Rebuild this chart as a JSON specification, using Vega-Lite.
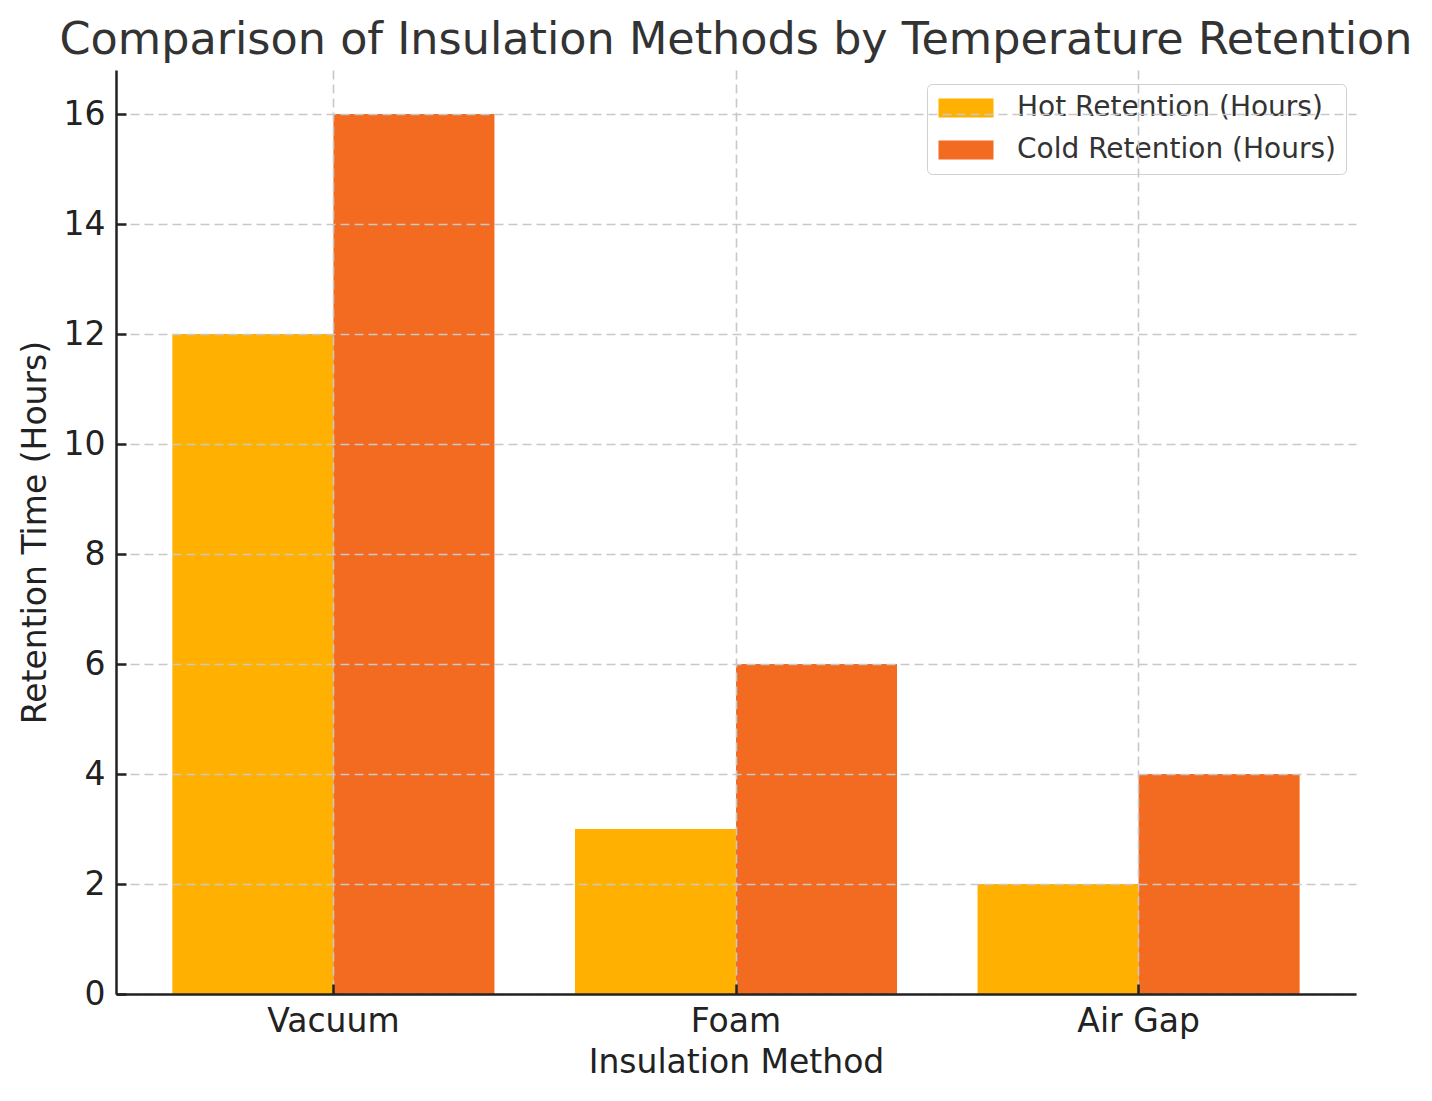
{
  "$schema": "https://vega.github.io/schema/vega-lite/v6.json",
  "width": 1240,
  "height": 924,
  "autosize": {"type": "none"},
  "padding": {"left": 116, "top": 70, "right": 76, "bottom": 107},
  "background": "white",
  "title": {
    "text": "Comparison of Insulation Methods by Temperature Retention",
    "font": "DejaVu Sans",
    "fontSize": 44.5,
    "fontWeight": "normal",
    "color": "#333333",
    "anchor": "middle",
    "baseline": "alphabetic",
    "offset": 15,
    "dy": 43
  },
  "data": {
    "values": [
      {"method": "Vacuum", "series": "Hot Retention (Hours)", "hours": 12},
      {"method": "Vacuum", "series": "Cold Retention (Hours)", "hours": 16},
      {"method": "Foam", "series": "Hot Retention (Hours)", "hours": 3},
      {"method": "Foam", "series": "Cold Retention (Hours)", "hours": 6},
      {"method": "Air Gap", "series": "Hot Retention (Hours)", "hours": 2},
      {"method": "Air Gap", "series": "Cold Retention (Hours)", "hours": 4}
    ]
  },
  "mark": {"type": "bar"},
  "encoding": {
    "x": {
      "field": "method",
      "type": "nominal",
      "sort": ["Vacuum", "Foam", "Air Gap"],
      "scale": {"paddingInner": 0.2, "paddingOuter": 0.14},
      "axis": {
        "title": "Insulation Method",
        "labelAngle": 0,
        "grid": true,
        "bandPosition": 0.5,
        "zindex": 1
      }
    },
    "xOffset": {
      "field": "series",
      "type": "nominal",
      "sort": ["Hot Retention (Hours)", "Cold Retention (Hours)"],
      "scale": {"paddingInner": 0, "paddingOuter": 0}
    },
    "y": {
      "field": "hours",
      "type": "quantitative",
      "scale": {"domain": [0, 16.8], "nice": false},
      "axis": {
        "title": "Retention Time (Hours)",
        "values": [0, 2, 4, 6, 8, 10, 12, 14, 16],
        "grid": true,
        "zindex": 1
      }
    },
    "color": {
      "field": "series",
      "type": "nominal",
      "sort": ["Hot Retention (Hours)", "Cold Retention (Hours)"],
      "scale": {"range": ["#FFB000", "#F26B21"]},
      "legend": {
        "title": null,
        "orient": "none",
        "legendX": 811,
        "legendY": 14,
        "symbolType": "M-2.037,-0.704L2.037,-0.704L2.037,0.704L-2.037,0.704Z",
        "symbolSize": 729,
        "symbolOffset": 15,
        "symbolStrokeWidth": 0,
        "symbolOpacity": 1,
        "labelFont": "DejaVu Sans",
        "labelFontSize": 28,
        "labelColor": "#333333",
        "labelOffset": 37,
        "labelLimit": 0,
        "rowPadding": 14,
        "padding": 10,
        "strokeColor": "#d0d0d0",
        "cornerRadius": 5,
        "fillColor": "white"
      }
    }
  },
  "config": {
    "view": {"stroke": null},
    "axis": {
      "labelFont": "DejaVu Sans",
      "titleFont": "DejaVu Sans",
      "labelFontSize": 33,
      "titleFontSize": 33,
      "titleFontWeight": "normal",
      "labelColor": "#222222",
      "titleColor": "#222222",
      "domainColor": "#222222",
      "domainWidth": 2.5,
      "tickColor": "#222222",
      "tickWidth": 2.5,
      "tickSize": -10,
      "labelPadding": 21,
      "gridColor": "#c8c8c8",
      "gridWidth": 1.6,
      "gridDash": [9, 5]
    },
    "axisY": {"titlePadding": 11},
    "axisX": {"titlePadding": 8}
  }
}
